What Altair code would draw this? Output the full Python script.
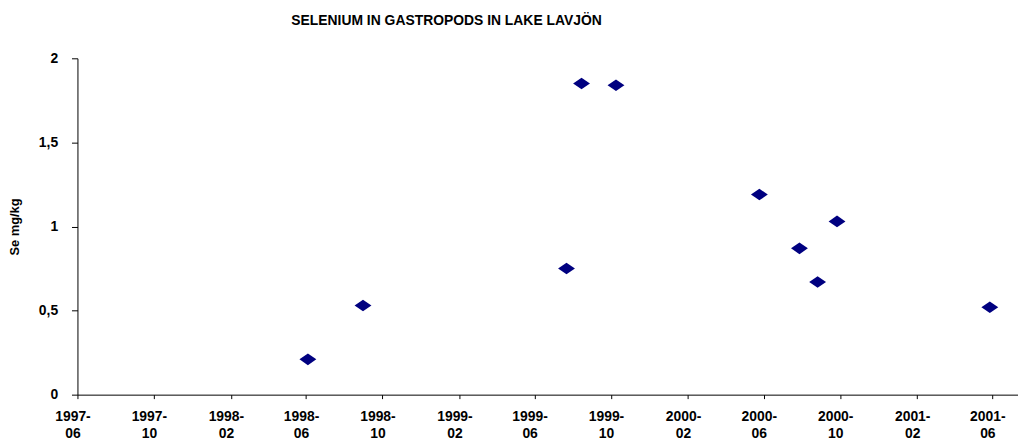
import altair as alt
import pandas as pd

dates = ["1998-06-04", "1998-08-31", "1999-07-22", "1999-08-15", "1999-10-09",
         "2000-05-25", "2000-07-28", "2000-08-26", "2000-09-26", "2001-05-28"]
values = [0.21, 0.53, 0.75, 1.85, 1.84, 1.19, 0.87, 0.67, 1.03, 0.52]

tick_dates = [(1997, 6), (1997, 10), (1998, 2), (1998, 6), (1998, 10), (1999, 2), (1999, 6),
              (1999, 10), (2000, 2), (2000, 6), (2000, 10), (2001, 2), (2001, 6)]
y_ticks = [0, 0.5, 1, 1.5, 2]
title_text = ["SELENIUM IN GASTROPODS IN LAKE LAVJÖN"]

df = pd.DataFrame({"date": dates, "value": values})
tdf = pd.DataFrame({"t": title_text})

FONT = "Liberation Sans"

x_axis = alt.Axis(
    values=[alt.DateTime(year=y, month=m, date=1, utc=True) for y, m in tick_dates],
    labelExpr="[utcFormat(datum.value, '%Y-'), utcFormat(datum.value, '%m')]",
    labelFont=FONT, labelFontSize=14, labelFontWeight="bold", labelColor="black",
    labelLineHeight=17, labelPadding=11, labelOffset=-5, labelAlign="center",
    labelBaseline="top", labelOverlap=False, labelFlush=False,
    tickSize=4, tickColor="black", domainColor="black", grid=False, title=None,
)

y_axis = alt.Axis(
    values=y_ticks,
    labelExpr="replace(toString(datum.value), '.', ',')",
    labelFont=FONT, labelFontSize=14, labelFontWeight="bold", labelColor="black",
    labelPadding=14, tickSize=6, tickColor="black", domainColor="black", grid=False,
    title="Se mg/kg", titleFont=FONT, titleFontSize=13, titleFontWeight="bold",
    titleColor="black", titleAngle=270, titleX=-59, titleY=169.5,
    titleBaseline="alphabetic", titleAlign="center",
)

points = alt.Chart(df).mark_point(
    shape="M-1,0L0,-0.69L1,0L0,0.69Z", size=289, filled=True,
    color="#000080", opacity=1, strokeWidth=0,
).encode(
    x=alt.X("date:T", axis=x_axis, scale=alt.Scale(
        type="utc",
        domain=[alt.DateTime(year=1997, month=6, date=1, utc=True),
                alt.DateTime(year=2001, month=7, date=12, utc=True)],
        nice=False)),
    y=alt.Y("value:Q", axis=y_axis, scale=alt.Scale(domain=[0, 2], nice=False)),
)

title = alt.Chart(tdf).mark_text(
    font=FONT, fontSize=14, fontWeight="bold", color="black",
    align="center", baseline="alphabetic",
).encode(text="t:N", x=alt.value(372), y=alt.value(-34))

chart = alt.layer(points, title).properties(
    width=948, height=339,
    autosize=alt.AutoSizeParams(type="none"),
    padding={"left": 70, "top": 49, "right": 0, "bottom": 45},
).configure_view(stroke=None)

chart.save("out.html", embed_options={"renderer": "svg", "actions": False})
